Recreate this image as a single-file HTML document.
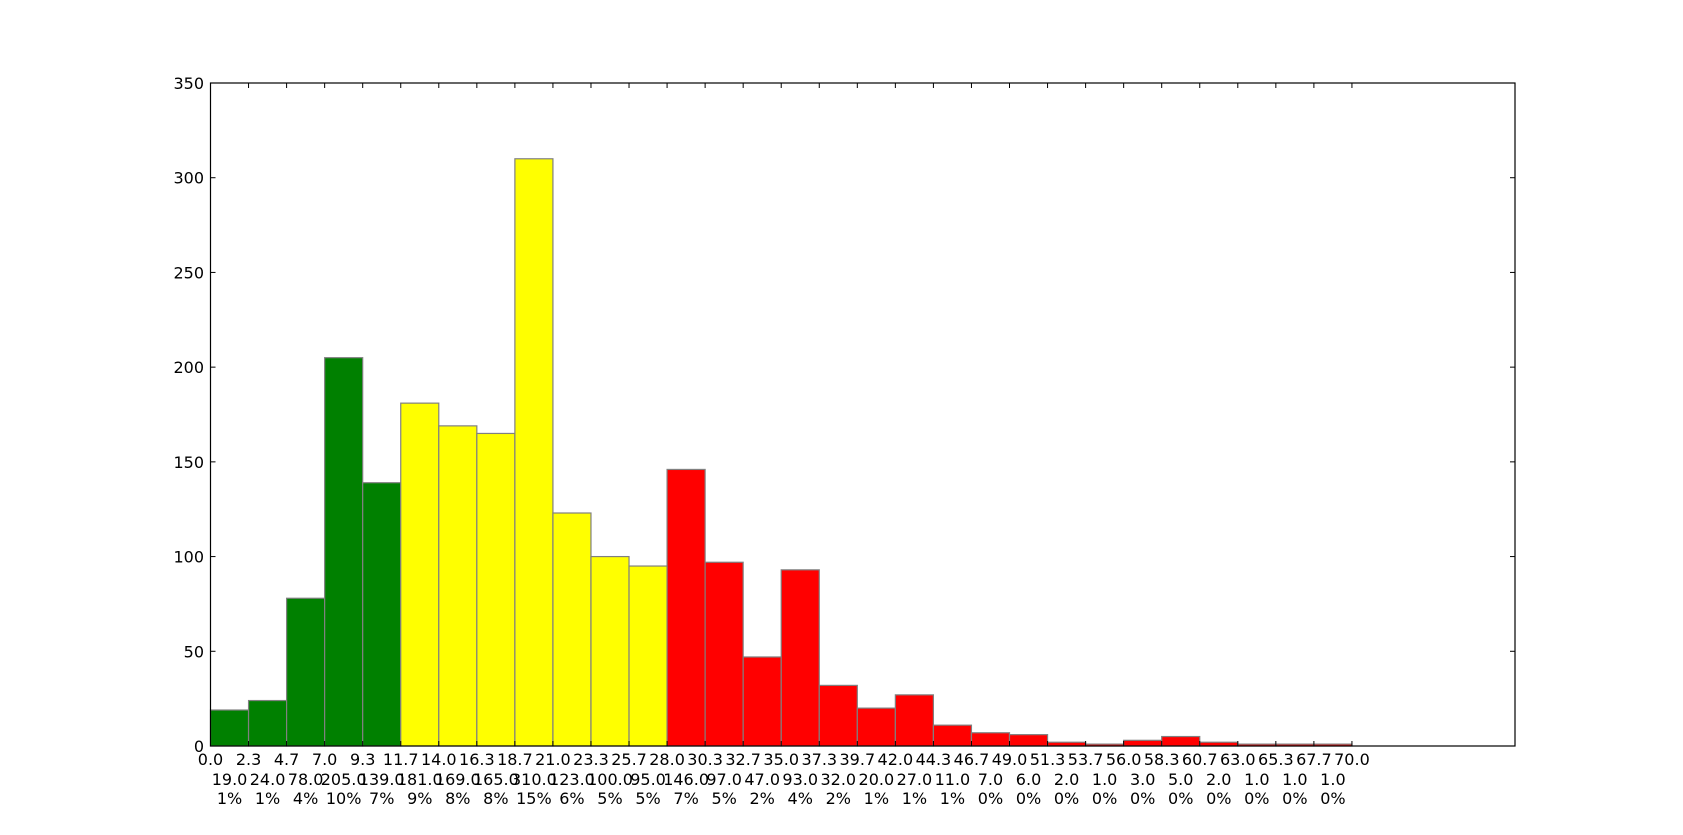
<!DOCTYPE html>
<html><head><meta charset="utf-8"><style>
body{margin:0;background:#fff;}
svg text{font-family:"DejaVu Sans","Liberation Sans",sans-serif;font-size:16px;fill:#000;}
</style></head><body>
<svg id="chart" width="1683" height="830" xmlns="http://www.w3.org/2000/svg">
<rect width="1683" height="830" fill="#fff"/>
<g id="bars"></g>
<g id="axes"></g>
</svg>
<script>
const counts=[19,24,78,205,139,181,169,165,310,123,100,95,146,97,47,93,32,20,27,11,7,6,2,1,3,5,2,1,1,1];
const colorGroups=["green","green","green","green","green","yellow","yellow","yellow","yellow","yellow","yellow","yellow","red","red","red","red","red","red","red","red","red","red","red","red","red","red","red","red","red","red"];
const binStart=0, binEnd=70;
const yTicks=[0,50,100,150,200,250,300,350];
const xMin=0,xMax=80,yMin=0,yMax=350;
const L=210.5,R=1515,T=83,B=746;
const ns="http://www.w3.org/2000/svg";
const sx=v=>L+(v-xMin)/(xMax-xMin)*(R-L);
const sy=v=>B-(v-yMin)/(yMax-yMin)*(B-T);
const colorMap={green:"#008000",yellow:"#ffff00",red:"#ff0000"};
function mk(tag,attrs,parent){const e=document.createElementNS(ns,tag);for(const k in attrs)e.setAttribute(k,attrs[k]);parent.appendChild(e);return e;}
const bars=document.getElementById('bars'),axes=document.getElementById('axes');
const n=counts.length,w=(binEnd-binStart)/n,total=counts.reduce((a,b)=>a+b,0);
counts.forEach((c,i)=>{
  const x0=binStart+i*w,x1=x0+w;
  const r=mk('rect',{x:sx(x0),y:sy(c),width:sx(x1)-sx(x0),height:sy(0)-sy(c),fill:colorMap[colorGroups[i]],stroke:"#808080","stroke-width":1.2},bars);
  
  
  const cx=sx(x0+w/2);
  const t1=mk('text',{x:cx,y:785,"text-anchor":"middle"},axes);t1.textContent=c.toFixed(1);
  
  
  const t2=mk('text',{x:cx,y:804,"text-anchor":"middle"},axes);t2.textContent=Math.round(c/total*100)+"%";
  
  
});
for(let i=0;i<=n;i++){
  const v=binStart+i*w,x=sx(v);
  const t=mk('text',{x:x,y:765,"text-anchor":"middle"},axes);t.textContent=v.toFixed(1);
  
  
  mk('line',{x1:x,x2:x,y1:B,y2:B-5,stroke:"#000"},axes);
  mk('line',{x1:x,x2:x,y1:T,y2:T+5,stroke:"#000"},axes);
}
yTicks.forEach(v=>{
  const y=sy(v);
  const t=mk('text',{x:204,y:y+6,"text-anchor":"end"},axes);t.textContent=v;
  
  
  mk('line',{x1:L,x2:L+5,y1:y,y2:y,stroke:"#000"},axes);
  mk('line',{x1:R,x2:R-5,y1:y,y2:y,stroke:"#000"},axes);
});
const f=mk('rect',{x:L,y:T,width:R-L,height:B-T,fill:"none",stroke:"#000","stroke-width":1.2},axes);


</script>
</body></html>
